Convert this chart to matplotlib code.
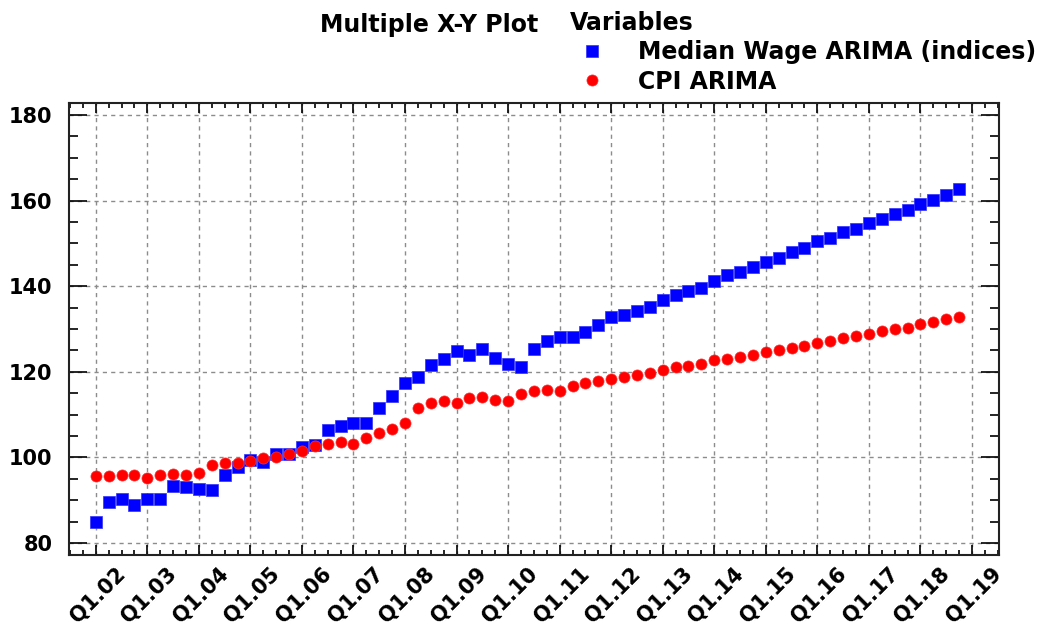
import numpy as np
import matplotlib
matplotlib.use('Agg')
import matplotlib.pyplot as plt
from matplotlib.ticker import MultipleLocator
import matplotlib.transforms as mtransforms

# 분기별 값 (Q1.02 ~ Q4.18)
wage = [85.0, 89.5, 90.4, 88.9, 90.2, 90.4, 93.4, 93.1, 92.6, 92.4,
        95.9, 97.8, 99.3, 98.9, 100.9, 100.7, 102.4, 102.8, 106.4, 107.4,
        108.0, 108.0, 111.6, 114.4, 117.5, 118.9, 121.7, 122.9, 124.9, 124.0,
        125.4, 123.2, 121.8, 121.1, 125.4, 127.1, 128.2, 128.2, 129.3, 130.9,
        132.7, 133.2, 134.2, 135.2, 136.7, 137.9, 138.9, 139.6, 141.1, 142.5,
        143.3, 144.5, 145.6, 146.7, 147.9, 149.0, 150.5, 151.2, 152.6, 153.4,
        154.8, 155.7, 156.8, 157.9, 159.1, 160.1, 161.3, 162.7]
cpi = [95.6, 95.6, 95.9, 95.9, 95.3, 95.9, 96.2, 95.9, 96.3, 98.3,
       98.6, 98.8, 99.2, 99.8, 100.2, 100.7, 101.5, 102.7, 103.1, 103.7,
       103.2, 104.5, 105.7, 106.7, 108.0, 111.5, 112.6, 113.2, 112.6, 113.9,
       114.1, 113.5, 113.2, 114.7, 115.5, 115.8, 115.5, 116.8, 117.4, 117.8,
       118.4, 118.8, 119.3, 119.7, 120.4, 121.1, 121.4, 121.9, 122.7, 123.0,
       123.5, 123.9, 124.6, 125.2, 125.5, 126.1, 126.7, 127.2, 127.8, 128.4,
       128.8, 129.5, 129.9, 130.3, 131.1, 131.6, 132.3, 132.7]
tick_labels = ['Q1.%02d' % y for y in range(2, 20)]
series_names = ['Median Wage ARIMA (indices)', 'CPI ARIMA']

x = np.arange(len(wage))

fig = plt.figure(figsize=(10.54, 6.28), dpi=100)
ax = fig.add_axes([69/1054, 1-555/628, 930/1054, 452/628])

ax.plot(x, wage, 's', ms=8, color='#0000ff', mec='#3030ff', mew=0.5,
        label=series_names[0], zorder=3)
ax.plot(x, cpi, 'o', ms=8, color='#ff0000', mec='#ff3030', mew=0.5,
        label=series_names[1], zorder=3)

ax.set_xlim(-2.08, 70.1)
ax.set_ylim(77.2, 182.8)

ax.set_xticks(np.arange(0, 69, 4))
ax.set_xticklabels(tick_labels)
ax.xaxis.set_minor_locator(MultipleLocator(1))
ax.set_yticks([80, 100, 120, 140, 160, 180])
ax.yaxis.set_minor_locator(MultipleLocator(5))

ax.grid(True, which='major', color='#8c8c8c', linestyle=(0, (3, 3)), linewidth=1)
ax.set_axisbelow(True)

ax.tick_params(axis='y', which='major', direction='in', length=13, width=1.2,
               left=True, right=True, labelsize=15, pad=12)
ax.tick_params(axis='y', which='minor', direction='in', length=6.5, width=1.2,
               left=True, right=True)
ax.tick_params(axis='x', which='major', direction='in', length=7, width=1.2,
               bottom=True, top=True, labelsize=15, pad=6)
ax.tick_params(axis='x', which='minor', direction='in', length=3.5, width=1.2,
               bottom=True, top=True)

for lab in ax.get_yticklabels():
    lab.set_fontweight('bold')
offset = mtransforms.ScaledTranslation(14/72, 0, fig.dpi_scale_trans)
for lab in ax.get_xticklabels():
    lab.set_fontweight('bold')
    lab.set_rotation(45)
    lab.set_ha('right')
    lab.set_va('top')
    lab.set_rotation_mode('anchor')
    lab.set_transform(lab.get_transform() + offset)

for sp in ax.spines.values():
    sp.set_linewidth(1.5)
    sp.set_color('#222222')

fig.text(320/1054, 1-32/628, 'Multiple X-Y Plot', fontsize=17, fontweight='bold',
         ha='left', va='baseline')

leg = fig.legend(loc='upper left', bbox_to_anchor=(551/1054, 1+8/628),
                 frameon=False, title='Variables', alignment='left',
                 prop={'size': 17, 'weight': 'bold'},
                 title_fontproperties={'size': 17, 'weight': 'bold'},
                 handlelength=1.9, handletextpad=1.0, labelspacing=0.23,
                 borderpad=0.3, numpoints=1, markerscale=1.0)

fig.savefig('out.png', dpi=100)
